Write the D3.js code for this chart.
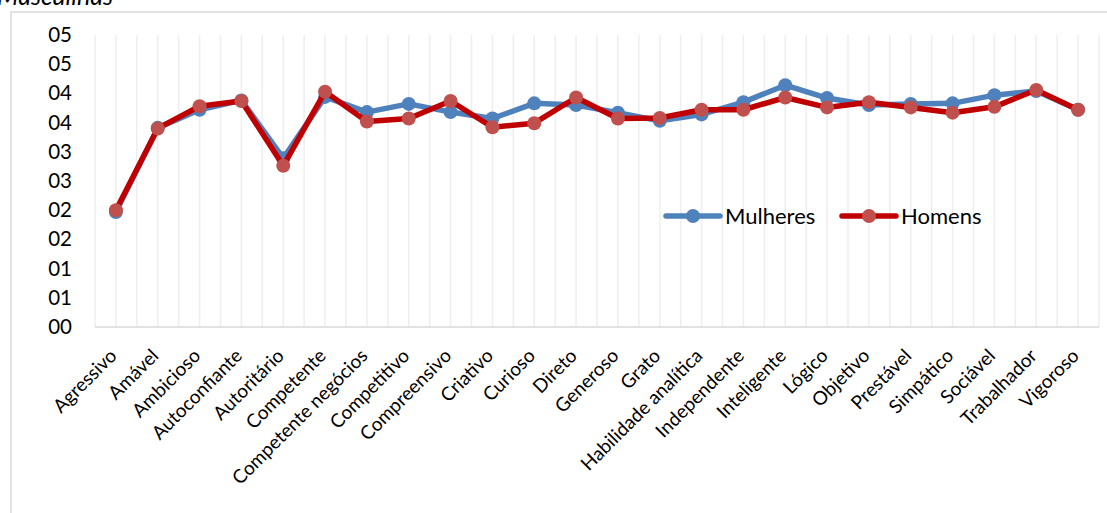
<!DOCTYPE html>
<html>
<head>
<meta charset="utf-8">
<script src="https://cdn.jsdelivr.net/npm/d3@7"></script>
<style>
  html, body { margin: 0; padding: 0; background: #fff; overflow: hidden; }
  svg { display: block; font-family: Lato, "Open Sans", sans-serif; }
</style>
</head>
<body>
<svg id="chart" width="1107" height="513"></svg>
<script>
// Traits rated on the "masculine" scale
const categories = ["Agressivo", "Amável", "Ambicioso", "Autoconfiante", "Autoritário", "Competente",
  "Competente negócios", "Competitivo", "Compreensivo", "Criativo", "Curioso", "Direto", "Generoso",
  "Grato", "Habilidade analítica", "Independente", "Inteligente", "Lógico", "Objetivo", "Prestável",
  "Simpático", "Sociável", "Trabalhador", "Vigoroso"];

const mulheres = [1.97, 3.41, 3.72, 3.88, 2.89, 3.94, 3.68, 3.82, 3.68, 3.57, 3.83, 3.80, 3.67,
  3.53, 3.64, 3.85, 4.14, 3.92, 3.80, 3.82, 3.83, 3.97, 4.04, 3.72];
const homens = [2.00, 3.40, 3.78, 3.87, 2.76, 4.03, 3.52, 3.57, 3.87, 3.42, 3.49, 3.93, 3.57,
  3.58, 3.72, 3.72, 3.93, 3.76, 3.85, 3.76, 3.67, 3.77, 4.06, 3.72];

const yTicks = [0, 0.5, 1, 1.5, 2, 2.5, 3, 3.5, 4, 4.5, 5];
const seriesNames = ["Mulheres", "Homens"];

const svg = d3.select("#chart");
const plot = { left: 95, right: 1099, top: 35, bottom: 327 };

const x = d3.scaleBand().domain(categories).range([plot.left, plot.right]).paddingInner(0).paddingOuter(0);
const cx = d => x(d) + x.bandwidth() / 2;
const y = d3.scaleLinear().domain([0, 5]).range([plot.bottom, plot.top]);

// Chart frame
svg.append("rect").attr("x", 11).attr("y", 12).attr("width", 1200).attr("height", 600)
  .attr("fill", "none").attr("stroke", "#d9d9d9").attr("stroke-width", 1.5);

// Title (partly above the frame)
svg.append("text").attr("x", -3).attr("y", 5)
  .attr("font-size", 25).attr("font-style", "italic").attr("fill", "#000")
  .text("Masculinas");

// Vertical gridlines at category edges and centres
const gridXs = [];
categories.forEach(c => { gridXs.push(x(c)); gridXs.push(cx(c)); });
gridXs.push(plot.right);
svg.append("g").selectAll("line").data(gridXs).join("line")
  .attr("x1", d => d).attr("x2", d => d)
  .attr("y1", plot.top).attr("y2", plot.bottom)
  .attr("stroke", "#eeeeee").attr("stroke-width", 1.5);

// Category axis line
svg.append("line").attr("x1", plot.left).attr("x2", plot.right)
  .attr("y1", plot.bottom).attr("y2", plot.bottom)
  .attr("stroke", "#d9d9d9").attr("stroke-width", 1.5);

// Value axis labels (two-digit rounded format)
const yAxis = d3.axisLeft(y).tickValues(yTicks).tickSize(0).tickPadding(0)
  .tickFormat(v => d3.format("02d")(Math.round(v + 1e-9)));
const yg = svg.append("g").attr("transform", `translate(72,0)`).call(yAxis);
yg.select(".domain").remove();
yg.selectAll("text").attr("font-size", 20.5).attr("fill", "#000")
  .attr("font-family", "Lato, 'Open Sans', sans-serif");

// Category labels rotated 45°
const xAxis = d3.axisBottom(x).tickSize(0).tickPadding(0);
const xg = svg.append("g").attr("transform", `translate(0,${plot.bottom})`).call(xAxis);
xg.select(".domain").remove();
xg.selectAll("text")
  .attr("font-size", 19).attr("fill", "#000")
  .attr("font-family", "Lato, 'Open Sans', sans-serif")
  .attr("text-anchor", "end")
  .attr("dy", null).attr("y", null)
  .attr("transform", "translate(2,30) rotate(-45)");

// Series
const series = [
  { name: seriesNames[0], values: mulheres, line: "#4f81bd", marker: "#4f81bd" },
  { name: seriesNames[1], values: homens, line: "#c00000", marker: "#c0504d" }
];
const lineGen = d3.line().x((d, i) => cx(categories[i])).y(d => y(d));

series.forEach(s => {
  const g = svg.append("g");
  g.append("path").datum(s.values).attr("d", lineGen)
    .attr("fill", "none").attr("stroke", s.line).attr("stroke-width", 5.5)
    .attr("stroke-linejoin", "round").attr("stroke-linecap", "round");
  g.selectAll("circle").data(s.values).join("circle")
    .attr("cx", (d, i) => cx(categories[i])).attr("cy", d => y(d))
    .attr("r", 7).attr("fill", s.marker);
});

// Legend
const legendItems = [
  { name: seriesNames[0], x: 666, line: "#4f81bd", marker: "#4f81bd" },
  { name: seriesNames[1], x: 842, line: "#c00000", marker: "#c0504d" }
];
const lg = svg.append("g");
legendItems.forEach(it => {
  lg.append("line").attr("x1", it.x).attr("x2", it.x + 54).attr("y1", 216).attr("y2", 216)
    .attr("stroke", it.line).attr("stroke-width", 5.5).attr("stroke-linecap", "round");
  lg.append("circle").attr("cx", it.x + 27).attr("cy", 216).attr("r", 7).attr("fill", it.marker);
  lg.append("text").attr("x", it.x + 59).attr("y", 224).attr("font-size", 22).attr("fill", "#000")
    .text(it.name);
});
</script>
</body>
</html>
